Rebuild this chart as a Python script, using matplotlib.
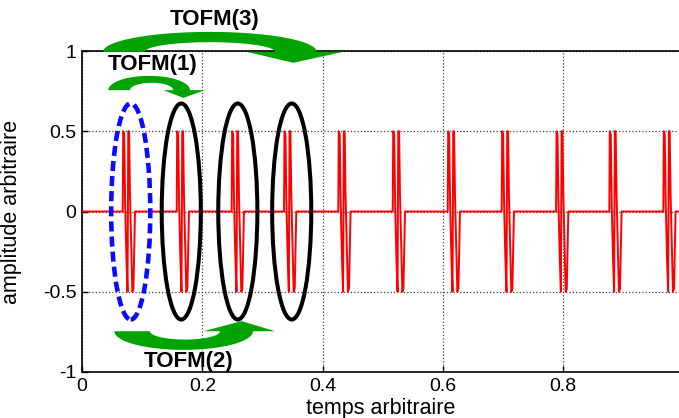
import numpy as np
import matplotlib
matplotlib.use("Agg")
import matplotlib.pyplot as plt
from matplotlib.patches import Ellipse, Polygon

plt.rcParams['font.family'] = ['Liberation Sans', 'DejaVu Sans']

# start time of each burst (temps arbitraire)
burst_starts = [0.0677, 0.1574, 0.2488, 0.3358, 0.4260, 0.5165,
                0.6079, 0.6976, 0.7880, 0.8765, 0.9663]
# shape of one burst: time offset and amplitude
burst_dt = [0.0, 0.0008, 0.0024, 0.0040, 0.0062, 0.0080, 0.0092,
            0.0106, 0.0121, 0.0141, 0.0160, 0.0178, 0.0193, 0.0204]
burst_amp = [0.0, 0.5, 0.48, 0.05, -0.3, -0.5, 0.5,
             0.5, 0.1, -0.2, -0.5, -0.48, -0.2, 0.0]
t_end = 1.0

# highlighted bursts (ellipses)
first_burst_x = 0.081
other_bursts_x = [0.165, 0.259, 0.3486]

xticks = [0, 0.2, 0.4, 0.6, 0.8]
xtick_labels = ['0', '0.2', '0.4', '0.6', '0.8']
yticks = [-1, -0.5, 0, 0.5, 1]
ytick_labels = ['-1', '-0.5', '0', '0.5', '1']

t = [0.0]
y = [0.0]
for s in burst_starts:
    for dt, a in zip(burst_dt, burst_amp):
        t.append(s + dt)
        y.append(a)
t.append(t_end)
y.append(0.0)

fig = plt.figure(figsize=(6.79, 4.18), dpi=100)
ax = fig.add_axes([82 / 679, 1 - 372 / 418, 1 - 82 / 679, 321 / 418])

ax.plot(t, y, color='#ff0000', lw=1.4, zorder=3)

ax.set_xlim(0, 597 / 601.6)
ax.set_ylim(-1, 1)
ax.set_xticks(xticks)
ax.set_xticklabels(xtick_labels)
ax.set_yticks(yticks)
ax.set_yticklabels(ytick_labels)
ax.grid(True, linestyle=':', color='0.25', lw=0.9)
ax.tick_params(direction='in', length=4, width=1, labelsize=14, pad=4)
for side in ['left', 'bottom', 'top']:
    ax.spines[side].set_linewidth(1.2)
ax.spines['right'].set_visible(False)

ax.set_xlabel('temps arbitraire', fontsize=15.5)
ax.set_ylabel('amplitude arbitraire', fontsize=15.5)
ax.xaxis.set_label_coords(0.5, -0.082)
ax.yaxis.set_label_coords(-0.10, 0.5)

# ellipses around bursts
ax.add_patch(Ellipse((first_burst_x, 0), 0.065, 1.346, fill=False,
                     edgecolor='#0a0aff', lw=3.3, linestyle=(0, (2.2, 1.1)),
                     zorder=4, clip_on=False))
for cx in other_bursts_x:
    ax.add_patch(Ellipse((cx, 0), 0.065, 1.346, fill=False,
                         edgecolor='black', lw=2.9, zorder=4, clip_on=False))


def curved_arrow(xl_o, xr_o, xl_i, xr_i, yb, h_o, h_i, head_l, head_r, tip, up=True):
    sgn = 1 if up else -1
    th = np.linspace(np.pi, 0, 60)
    cx_o, a_o = (xl_o + xr_o) / 2, (xr_o - xl_o) / 2
    cx_i, a_i = (xl_i + xr_i) / 2, (xr_i - xl_i) / 2
    outer = np.column_stack([cx_o + a_o * np.cos(th), yb + sgn * h_o * np.sin(th)])
    inner = np.column_stack([cx_i + a_i * np.cos(th[::-1]), yb + sgn * h_i * np.sin(th[::-1])])
    head = np.array([[head_r, yb], tip, [head_l, yb]])
    pts = np.vstack([outer, head, inner])
    ax.add_patch(Polygon(pts, closed=True, facecolor='#00a300', edgecolor='none',
                         zorder=5, clip_on=False))


curved_arrow(0.0352, 0.390, 0.1047, 0.3208, 0.995, 0.124, 0.060,
             0.2738, 0.4343, (0.3512, 0.9265))
curved_arrow(0.0437, 0.1795, 0.0798, 0.1518, 0.756, 0.089, 0.046,
             0.1351, 0.2045, (0.1684, 0.708))
curved_arrow(0.0537, 0.2842, 0.113, 0.2294, -0.746, 0.116, 0.052,
             0.2016, 0.3208, (0.2655, -0.683), up=False)

lab = dict(fontsize=16, fontweight='bold', ha='center', va='center',
           zorder=6, clip_on=False)
ax.text(0.221, 1.196, 'TOFM(3)', **lab)
ax.text(0.117, 0.916, 'TOFM(1)', **lab)
ax.text(0.178, -0.935, 'TOFM(2)', **lab)

fig.savefig('out.png', dpi=100)
